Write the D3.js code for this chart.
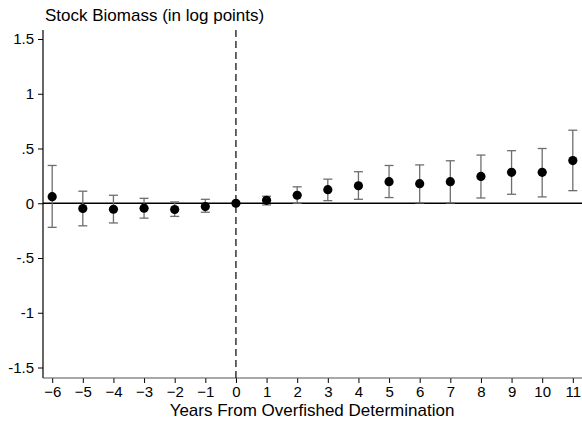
<!DOCTYPE html>
<html>
<head>
<meta charset="utf-8">
<script src="https://d3js.org/d3.v7.min.js"></script>
<style>
  body { margin: 0; background: #fff; }
  text { font-family: "Liberation Sans", Arial, sans-serif; }
</style>
</head>
<body>
<script>
  // event-study estimates
  const years = [-6, -5, -4, -3, -2, -1, 0, 1, 2, 3, 4, 5, 6, 7, 8, 9, 10, 11];
  const coef  = [0.06, -0.048, -0.055, -0.045, -0.057, -0.03, 0, 0.027, 0.073, 0.124, 0.16, 0.197, 0.179, 0.197, 0.245, 0.282, 0.282, 0.39];
  const ciHi  = [0.345, 0.11, 0.073, 0.045, 0.012, 0.036, null, 0.064, 0.15, 0.22, 0.288, 0.345, 0.35, 0.388, 0.44, 0.48, 0.50, 0.667];
  const ciLo  = [-0.22, -0.206, -0.18, -0.136, -0.12, -0.082, null, -0.015, 0, 0.024, 0.036, 0.052, 0.003, 0.003, 0.048, 0.082, 0.058, 0.115];
  const yTicks = [1.5, 1, 0.5, 0, -0.5, -1, -1.5];
  const yTickLabels = ["1.5", "1", ".5", "0", "-.5", "-1", "-1.5"];

  const W = 582, H = 423;
  const font = '"Liberation Sans", Arial, sans-serif';
  const svg = d3.select('body').append('svg')
      .attr('width', W).attr('height', H);

  const x = d3.scaleLinear().domain([-6.3, 11.3]).range([43, 582]);
  const y = d3.scaleLinear().domain([-1.5, 1.5]).range([367.5, 39]);
  const yBottom = 378, yTop = 30;

  // axes
  const yAxis = d3.axisLeft(y).tickValues(yTicks)
      .tickFormat((d, i) => yTickLabels[i]).tickSize(5).tickSizeOuter(0);
  const gy = svg.append('g').attr('transform', 'translate(43,0)').call(yAxis);
  gy.select('.domain').remove();
  gy.append('line').attr('x1', 0).attr('x2', 0).attr('y1', yTop).attr('y2', yBottom)
      .attr('stroke', '#000').attr('stroke-width', 1.2);
  gy.selectAll('.tick line').attr('stroke', '#000').attr('stroke-width', 1);
  gy.selectAll('.tick text').attr('x', -9).attr('font-size', 15).attr('fill', '#000')
      .attr('font-family', font);

  const xAxis = d3.axisBottom(x).tickValues(years).tickFormat(d3.format('d'))
      .tickSize(5).tickSizeOuter(0);
  const gx = svg.append('g').attr('transform', `translate(0,${yBottom})`).call(xAxis);
  gx.select('.domain').remove();
  gx.append('line').attr('x1', 43).attr('x2', W).attr('y1', 0).attr('y2', 0)
      .attr('stroke', '#555').attr('stroke-width', 1.2);
  gx.selectAll('.tick line').attr('stroke', '#000');
  gx.selectAll('.tick text').attr('y', 8).attr('font-size', 15).attr('fill', '#000')
      .attr('font-family', font);

  // zero line and event line
  svg.append('line').attr('x1', 43).attr('x2', W).attr('y1', y(0)).attr('y2', y(0))
      .attr('stroke', '#000').attr('stroke-width', 1.3);
  svg.append('line').attr('x1', x(0)).attr('x2', x(0)).attr('y1', yTop).attr('y2', yBottom)
      .attr('stroke', '#000').attr('stroke-width', 1.2).attr('stroke-dasharray', '7,4');

  const data = years.map((yr, i) => ({ yr, c: coef[i], hi: ciHi[i], lo: ciLo[i] }));

  // error bars
  const eb = svg.append('g').selectAll('g')
      .data(data.filter(d => d.hi !== null)).enter().append('g')
      .attr('stroke', '#6e6e6e').attr('stroke-width', 1.3);
  eb.append('line').attr('x1', d => x(d.yr)).attr('x2', d => x(d.yr))
      .attr('y1', d => y(d.hi)).attr('y2', d => y(d.lo));
  eb.append('line').attr('x1', d => x(d.yr) - 4.5).attr('x2', d => x(d.yr) + 4.5)
      .attr('y1', d => y(d.hi)).attr('y2', d => y(d.hi));
  eb.append('line').attr('x1', d => x(d.yr) - 4.5).attr('x2', d => x(d.yr) + 4.5)
      .attr('y1', d => y(d.lo)).attr('y2', d => y(d.lo));

  // points
  svg.append('g').selectAll('circle').data(data).enter().append('circle')
      .attr('cx', d => x(d.yr)).attr('cy', d => y(d.c)).attr('r', 4.6)
      .attr('fill', '#000');

  // titles
  svg.append('text').attr('x', 45).attr('y', 21).attr('font-size', 17)
      .text('Stock Biomass (in log points)');
  svg.append('text').attr('x', 312).attr('y', 416).attr('font-size', 17)
      .attr('text-anchor', 'middle').text('Years From Overfished Determination');
</script>
</body>
</html>
